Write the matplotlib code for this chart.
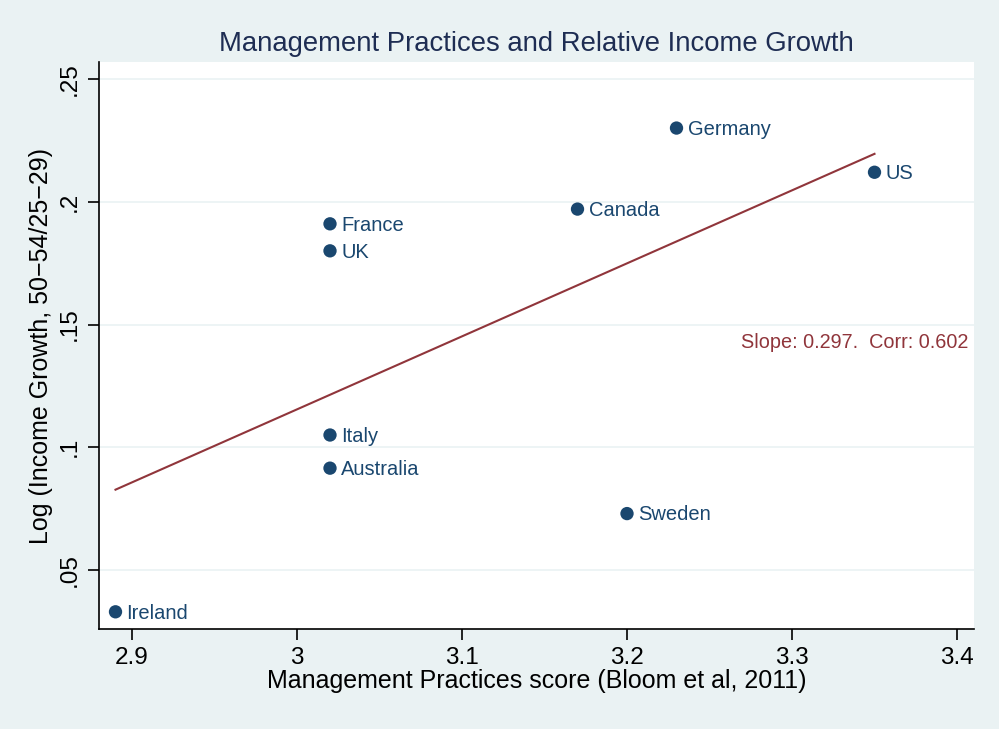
import matplotlib
matplotlib.use("Agg")
import matplotlib.pyplot as plt
import numpy as np

plt.rcParams['font.family'] = ['Liberation Sans', 'DejaVu Sans']

countries = ["Ireland", "France", "UK", "Italy", "Australia", "Canada", "Sweden", "Germany", "US"]
mgmt_score = [2.89, 3.02, 3.02, 3.02, 3.02, 3.17, 3.20, 3.23, 3.35]
log_income_growth = [0.033, 0.191, 0.180, 0.105, 0.0915, 0.197, 0.073, 0.230, 0.212]
x_ticks = [2.9, 3.0, 3.1, 3.2, 3.3, 3.4]
x_ticklabels = ["2.9", "3", "3.1", "3.2", "3.3", "3.4"]
y_ticks = [0.05, 0.10, 0.15, 0.20, 0.25]
y_ticklabels = [".05", ".1", ".15", ".2", ".25"]
annotation = "Slope: 0.297.  Corr: 0.602"

bg = "#EAF2F3"
navy = "#1A476F"
maroon = "#90353B"

fig = plt.figure(figsize=(9.99, 7.29), dpi=100, facecolor=bg)
ax = fig.add_axes([99/999, 1 - 629/729, (974-99)/999, (629-62)/729])
ax.set_facecolor("white")

for yt in y_ticks:
    ax.axhline(yt, color=bg, lw=1.2, zorder=0)

x = np.array(mgmt_score)
y = np.array(log_income_growth)
b, a = np.polyfit(x, y, 1)
xs = np.array([x.min(), x.max()])
ax.plot(xs, a + b * xs, color=maroon, lw=1.5, zorder=2)

ax.scatter(x, y, s=92, color=navy, zorder=3, edgecolors="none")
for c, xi, yi in zip(countries, x, y):
    ax.annotate(c, (xi, yi), xytext=(8, -1), textcoords="offset points",
                va="center", ha="left", color=navy, fontsize=14.5)

ax.text(3.4067, 0.1425, annotation, ha="right", va="center",
        color=maroon, fontsize=14.3)

ax.set_xlim(2.88, 3.4103)
ax.set_ylim(0.026, 0.2569)
ax.set_xticks(x_ticks)
ax.set_xticklabels(x_ticklabels, fontsize=17.5)
ax.set_yticks(y_ticks)
ax.set_yticklabels(y_ticklabels, fontsize=17.5, rotation=90, va="center")
ax.tick_params(axis="both", length=8, width=1.2, color="black", pad=5)

for s in ["top", "right"]:
    ax.spines[s].set_visible(False)
for s in ["left", "bottom"]:
    ax.spines[s].set_linewidth(1.2)
    ax.spines[s].set_color("black")

ax.set_xlabel("Management Practices score (Bloom et al, 2011)", fontsize=18, labelpad=0)
ax.set_ylabel("Log (Income Growth, 50\u221254/25\u221229)", fontsize=18, labelpad=4)
ax.set_title("Management Practices and Relative Income Growth", fontsize=19.8,
             color="#1E2D53", pad=8)

fig.savefig("out.png", dpi=100, facecolor=bg)
